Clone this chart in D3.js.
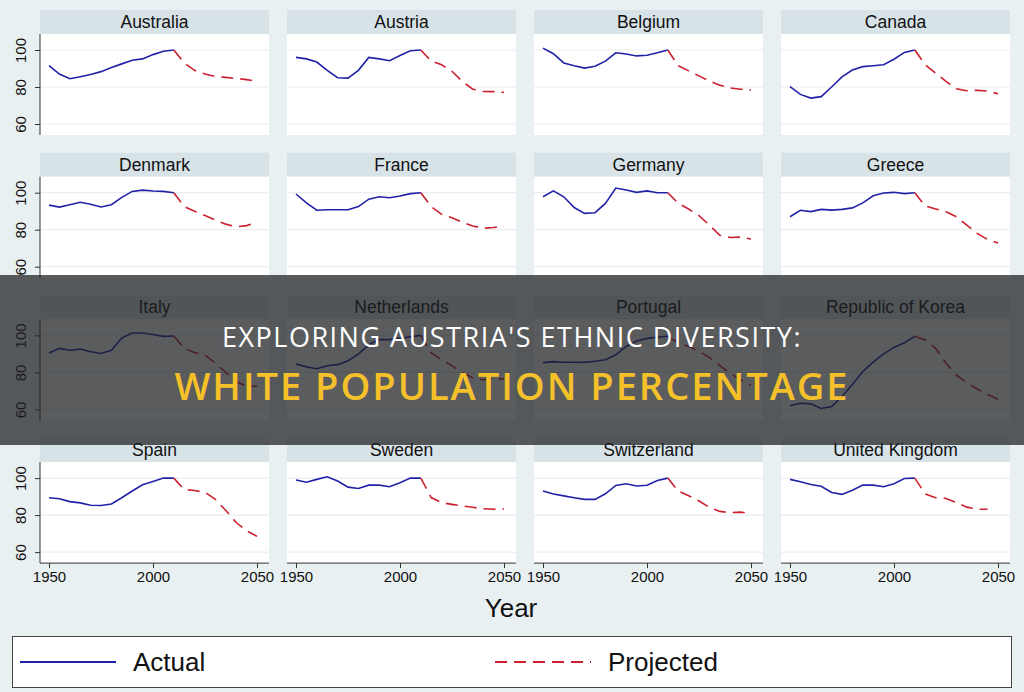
<!DOCTYPE html>
<html>
<head>
<meta charset="utf-8">
<script src="https://cdn.jsdelivr.net/npm/d3@7"></script>
<style>
  body { margin: 0; background: #e9f0f2; }
  svg { display: block; }
</style>
</head>
<body>
<div id="chart"></div>
<script>
var countries = ['Australia', 'Austria', 'Belgium', 'Canada',
                 'Denmark', 'France', 'Germany', 'Greece',
                 'Italy', 'Netherlands', 'Portugal', 'Republic of Korea',
                 'Spain', 'Sweden', 'Switzerland', 'United Kingdom'];

var actualYears = [1950, 1955, 1960, 1965, 1970, 1975, 1980, 1985, 1990, 1995, 2000, 2005, 2010];
var projYears = [2010, 2015, 2020, 2025, 2030, 2035, 2040, 2045, 2050];

var actual = [
  [91.5, 87, 84.5, 85.5, 86.8, 88.3, 90.5, 92.5, 94.5, 95.2, 97.5, 99.3, 100],
  [96, 95.2, 93.5, 89, 85, 84.8, 89, 96, 95.2, 94.2, 97, 99.6, 100],
  [101, 98, 93, 91.5, 90.2, 91.2, 94, 98.5, 97.8, 96.8, 97.2, 98.5, 100],
  [80.2, 76, 74, 74.8, 80, 85.5, 89.2, 91, 91.5, 92, 95, 98.7, 100],
  [93.3, 92.2, 93.5, 94.8, 93.8, 92.3, 93.5, 97.5, 100.7, 101.4, 100.9, 100.7, 100],
  [99.3, 94.5, 90.5, 90.8, 90.8, 90.8, 92.5, 96.5, 97.8, 97.3, 98.2, 99.5, 100],
  [97.8, 101, 97.8, 92, 88.8, 89.2, 94.2, 102.5, 101.5, 100.2, 101, 100, 100],
  [87, 90.5, 89.8, 91, 90.6, 91, 91.8, 94.5, 98.3, 99.8, 100.2, 99.5, 100],
  [90.5, 93, 92, 92.6, 91.2, 90.2, 92, 98.6, 101.3, 101.3, 100.5, 99.5, 99.7],
  [84.5, 83, 82, 83.6, 84.2, 86.3, 89.9, 95, 97.7, 97.7, 98.5, 99.2, 100],
  [85.3, 85.8, 85.5, 85.5, 85.4, 86, 86.8, 89.5, 94, 97, 98.4, 99, 99.5],
  [62, 63.3, 63, 60.5, 61.5, 67, 73.5, 80.5, 85.5, 90, 93.5, 96, 99.5],
  [89.4, 88.8, 87.3, 86.6, 85.3, 85.2, 86, 89.4, 93, 96.4, 98.2, 100, 100],
  [99, 97.8, 99.3, 100.7, 98.4, 95.1, 94.4, 96.2, 96.2, 95.3, 97.5, 100, 100],
  [93, 91.4, 90.4, 89.4, 88.5, 88.5, 91.5, 96, 96.9, 95.7, 96.1, 98.7, 100],
  [99.3, 98, 96.5, 95.6, 92.2, 91.2, 93.4, 96.2, 96.2, 95.3, 97, 99.8, 100]
];

var projected = [
  [100, 93, 89, 87, 85.7, 85.2, 84.6, 84, 83],
  [100, 94, 92, 88.5, 83, 78.8, 77.6, 77.5, 77],
  [100, 91.5, 88.7, 86, 83.2, 81, 79.5, 78.8, 78.3],
  [100, 92, 87.5, 83, 79, 78, 78.2, 77.8, 76.3],
  [100, 92.5, 90, 87.7, 85.2, 83, 81.6, 82.2, 84],
  [100, 92.5, 88.3, 86.5, 84, 82, 80.8, 81.2, 81.8],
  [100, 94.3, 91.2, 87.6, 82.5, 77, 75.8, 76, 75],
  [100, 92.8, 91.2, 89.7, 87, 82.5, 78, 74.7, 72.8],
  [99.7, 93, 90.8, 89.3, 85, 80, 75, 72.5, 72.5],
  [100, 90.5, 87, 83.5, 80, 77, 76, 76.5, 76.5],
  [99.5, 96, 94, 91.5, 88, 83.7, 79.5, 76, 73],
  [99.5, 97.5, 93, 85, 78.5, 74.5, 71, 68, 65.5],
  [100, 93.8, 93.3, 92.3, 88.5, 82.5, 76, 71.5, 68.5],
  [100, 89.5, 86.7, 85.8, 84.9, 84.2, 83.4, 83.2, 83.3],
  [100, 93, 90.5, 87.6, 84.2, 82, 81.3, 81.6, 80.8],
  [100, 91.5, 89.4, 89, 86.7, 84.3, 83.2, 83.2]
];

var yTicks = [60, 80, 100];
var xTicks = [1950, 2000, 2050];
var legendLabels = ['Actual', 'Projected'];

var width = 1024, height = 692;
var panelW = 229, headerH = 24, plotH = 101;
var colStep = 247, rowStep = 142.7;
var blue = '#2222a8', red = '#cc2030';
var labelFont = '"Liberation Sans", Arial, sans-serif';

var svg = d3.select('#chart').append('svg')
            .attr('width', width)
            .attr('height', height);

svg.append('rect').attr('width', width).attr('height', height).attr('fill', '#e9f0f2');

var x = d3.scaleLinear().domain([1950, 2050]).range([9, 217]);
var y = d3.scaleLinear().domain([60, 100]).range([90, 16]);

var lineA = d3.line().x(function(d){ return x(d[0]); }).y(function(d){ return y(d[1]); });

countries.forEach(function(name, i){
  var col = i % 4, row = Math.floor(i / 4);
  var g = svg.append('g')
             .attr('transform', 'translate(' + (40 + col * colStep) + ',' + (10 + row * rowStep) + ')');

  g.append('rect').attr('width', panelW).attr('height', headerH).attr('fill', '#d8e3e8');
  g.append('text')
    .attr('x', panelW / 2).attr('y', 18)
    .attr('text-anchor', 'middle')
    .attr('font-family', labelFont).attr('font-size', 17.5)
    .attr('fill', '#111')
    .text(name);

  var p = g.append('g').attr('transform', 'translate(0,' + headerH + ')');
  p.append('rect').attr('width', panelW).attr('height', plotH).attr('fill', '#fff');

  p.selectAll('line.grid').data(yTicks).enter().append('line')
    .attr('class', 'grid')
    .attr('x1', 0).attr('x2', panelW)
    .attr('y1', function(d){ return y(d); }).attr('y2', function(d){ return y(d); })
    .attr('stroke', '#eaeef0').attr('stroke-width', 1.2);

  var aPts = actualYears.map(function(yr, k){ return [yr, actual[i][k]]; });
  var pPts = projected[i].map(function(v, k){ return [projYears[k], v]; });

  p.append('path').datum(aPts)
    .attr('d', lineA).attr('fill', 'none')
    .attr('stroke', blue).attr('stroke-width', 1.6);
  p.append('path').datum(pPts)
    .attr('d', lineA).attr('fill', 'none')
    .attr('stroke', red).attr('stroke-width', 1.6)
    .attr('stroke-dasharray', '12,7');

  if(col === 0){
    var ya = p.append('g')
      .call(d3.axisLeft(y).tickValues(yTicks).tickSize(5).tickSizeOuter(0));
    ya.select('.domain').attr('d', 'M0,0V' + plotH).attr('stroke', '#333');
    ya.selectAll('.tick line').attr('stroke', '#333');
    ya.selectAll('.tick text')
      .attr('font-family', labelFont).attr('font-size', 15).attr('fill', '#111')
      .attr('transform', 'rotate(-90)')
      .attr('x', 0).attr('y', -14)
      .attr('dy', 0)
      .attr('text-anchor', 'middle');
  }
  if(row === 3){
    var xa = p.append('g').attr('transform', 'translate(0,' + plotH + ')')
      .call(d3.axisBottom(x).tickValues(xTicks).tickFormat(d3.format('d')).tickSize(5).tickSizeOuter(0));
    xa.select('.domain').attr('d', 'M0,0H' + panelW).attr('stroke', '#333');
    xa.selectAll('.tick line').attr('stroke', '#333');
    xa.selectAll('.tick text')
      .attr('font-family', labelFont).attr('font-size', 15).attr('fill', '#111')
      .attr('y', 8);
  }
});

svg.append('text')
  .attr('x', 511).attr('y', 617)
  .attr('text-anchor', 'middle')
  .attr('font-family', labelFont).attr('font-size', 26).attr('fill', '#111')
  .text('Year');

// legend
var lg = svg.append('g');
lg.append('rect').attr('x', 12.5).attr('y', 636.5).attr('width', 999).attr('height', 51)
  .attr('fill', '#fff').attr('stroke', '#444').attr('stroke-width', 1);
var legendItems = [{x: 20, color: blue, dash: null}, {x: 495, color: red, dash: '12,7'}];
legendItems.forEach(function(it, k){
  lg.append('line').attr('x1', it.x).attr('x2', it.x + 96).attr('y1', 662).attr('y2', 662)
    .attr('stroke', it.color).attr('stroke-width', 1.8)
    .attr('stroke-dasharray', it.dash);
  lg.append('text').attr('x', it.x + 113).attr('y', 671)
    .attr('font-family', labelFont).attr('font-size', 26).attr('fill', '#111')
    .text(legendLabels[k]);
});

// title banner over the chart
svg.append('rect').attr('x', 0).attr('y', 275).attr('width', width).attr('height', 170)
  .attr('fill', 'rgb(30,32,34)').attr('fill-opacity', 0.73);
svg.append('text')
  .attr('x', 512).attr('y', 347)
  .attr('text-anchor', 'middle')
  .attr('font-family', '"Open Sans", sans-serif').attr('font-size', 27)
  .attr('letter-spacing', 1.5)
  .attr('fill', '#ffffff')
  .text("EXPLORING AUSTRIA'S ETHNIC DIVERSITY:");
svg.append('text')
  .attr('x', 512).attr('y', 400)
  .attr('text-anchor', 'middle')
  .attr('font-family', '"Open Sans", sans-serif').attr('font-size', 38).attr('font-weight', 600)
  .attr('letter-spacing', 2)
  .attr('fill', '#f5c12a')
  .text('WHITE POPULATION PERCENTAGE');
</script>
</body>
</html>
